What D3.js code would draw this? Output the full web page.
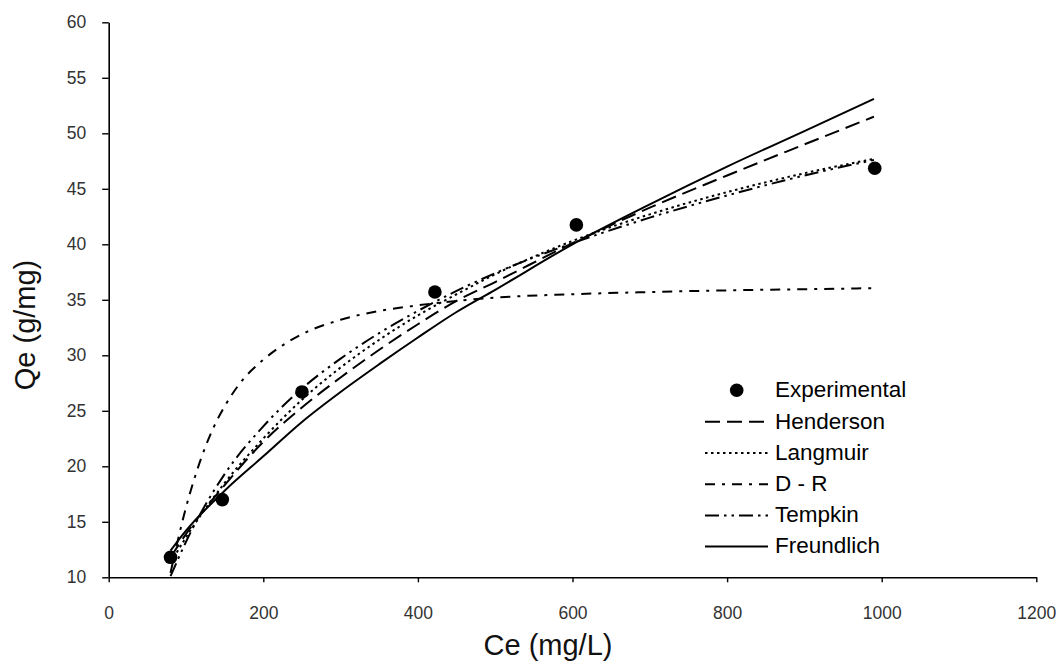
<!DOCTYPE html>
<html>
<head>
<meta charset="utf-8">
<script src="https://cdn.jsdelivr.net/npm/d3@7"></script>
<style>
  body { margin: 0; background: #fff; }
  svg { display: block; font-family: Arial, "Liberation Sans", sans-serif; }
</style>
</head>
<body>
<svg id="chart" width="1061" height="668"></svg>
<script>
// experimental points
const ceExp = [80, 147, 250, 422, 605, 991];
const qeExp = [11.8, 17.0, 26.7, 35.7, 41.75, 46.85];

// fitted curves
const ceFit = [80, 100, 150, 200, 250, 300, 350, 400, 450, 500, 600, 700, 800, 900, 990];
const qeHenderson = [11.8, 13.9, 18.3, 22.2, 25.3, 28.0, 30.5, 32.8, 34.9, 36.6, 40.1, 43.3, 46.2, 49.0, 51.5];
const qeLangmuir = [11.3, 13.6, 18.5, 22.5, 26.0, 28.9, 31.4, 33.6, 35.5, 37.3, 40.3, 42.7, 44.7, 46.4, 47.7];
const qeTempkin = [10.1, 13.2, 19.3, 23.6, 27.0, 29.7, 32.0, 34.0, 35.8, 37.4, 40.1, 42.4, 44.4, 46.2, 47.6];
const qeFreundlich = [12.4, 14.2, 17.8, 20.9, 24.0, 26.7, 29.2, 31.6, 33.9, 35.9, 40.0, 43.6, 47.0, 50.2, 53.1];

const ceDR = [80, 90, 100, 110, 120, 135, 150, 170, 200, 225, 250, 300, 350, 400, 500, 600, 700, 800, 900, 990];
const qeDR = [10.4, 13.5, 16.3, 18.7, 20.8, 23.4, 25.4, 27.5, 29.6, 30.9, 31.9, 33.2, 34.0, 34.5, 35.2, 35.5, 35.7, 35.85, 35.95, 36.05];

const xTicks = [0, 200, 400, 600, 800, 1000, 1200];
const yTicks = [10, 15, 20, 25, 30, 35, 40, 45, 50, 55, 60];

const series = [
  { name: "Henderson", x: ceFit, y: qeHenderson, dash: "15,7" },
  { name: "Langmuir", x: ceFit, y: qeLangmuir, dash: "2.5,3.5" },
  { name: "D - R", x: ceDR, y: qeDR, dash: "10,7,3,7" },
  { name: "Tempkin", x: ceFit, y: qeTempkin, dash: "14,5,2.5,5,2.5,5" },
  { name: "Freundlich", x: ceFit, y: qeFreundlich, dash: null }
];

const svg = d3.select("#chart");
const x = d3.scaleLinear().domain([0, 1200]).range([108.7, 1036.3]);
const y = d3.scaleLinear().domain([10, 60]).range([577.3, 22.3]);

// axes
const gx = svg.append("g")
  .attr("transform", `translate(0,${y(10)})`)
  .call(d3.axisBottom(x).tickValues(xTicks).tickFormat(d3.format("d"))
    .tickSize(5).tickSizeOuter(0).tickPadding(24.5));
const gy = svg.append("g")
  .attr("transform", `translate(${x(0)},0)`)
  .call(d3.axisLeft(y).tickValues(yTicks).tickSize(6.5).tickSizeOuter(0).tickPadding(16));

[gx, gy].forEach(g => {
  g.select(".domain").attr("stroke", "#000").attr("stroke-width", 1.6);
  g.selectAll(".tick line").attr("stroke", "#000").attr("stroke-width", 1.4);
  g.selectAll(".tick text").attr("fill", "#333").style("font-size", "17.5px")
    .style("font-family", "Arial, 'Liberation Sans', sans-serif");
});

// axis titles
svg.append("text")
  .attr("x", 548).attr("y", 655)
  .attr("text-anchor", "middle")
  .style("font-size", "29px").attr("fill", "#111")
  .text("Ce (mg/L)");
svg.append("text")
  .attr("transform", "translate(35,325) rotate(-90)")
  .attr("text-anchor", "middle")
  .style("font-size", "29px").attr("fill", "#111")
  .text("Qe (g/mg)");

// curves
const line = d3.line()
  .x(d => x(d[0]))
  .y(d => y(d[1]))
  .curve(d3.curveMonotoneX);

series.forEach(s => {
  svg.append("path")
    .datum(s.x.map((c, i) => [c, s.y[i]]))
    .attr("fill", "none")
    .attr("stroke", "#000")
    .attr("stroke-width", 2)
    .attr("stroke-dasharray", s.dash)
    .attr("d", line);
});

// experimental points
svg.append("g").selectAll("circle")
  .data(ceExp.map((c, i) => [c, qeExp[i]]))
  .join("circle")
  .attr("cx", d => x(d[0]))
  .attr("cy", d => y(d[1]))
  .attr("r", 6.8)
  .attr("fill", "#000");

// legend
const legend = svg.append("g").attr("transform", "translate(705,397.3)");
const rowH = 31.2;
const legendRows = [{ name: "Experimental", marker: true }].concat(series);
legendRows.forEach((r, i) => {
  const g = legend.append("g").attr("transform", `translate(0,${i * rowH})`);
  if (r.marker) {
    g.append("circle").attr("cx", 31.7).attr("cy", -7).attr("r", 6.8).attr("fill", "#000");
  } else {
    g.append("line")
      .attr("x1", 0).attr("x2", 63).attr("y1", -6.7).attr("y2", -6.7)
      .attr("stroke", "#000").attr("stroke-width", 2)
      .attr("stroke-dasharray", r.dash);
  }
  g.append("text")
    .attr("x", 70).attr("y", 0)
    .style("font-size", "22.5px").attr("fill", "#000")
    .text(r.name);
});
</script>
</body>
</html>
